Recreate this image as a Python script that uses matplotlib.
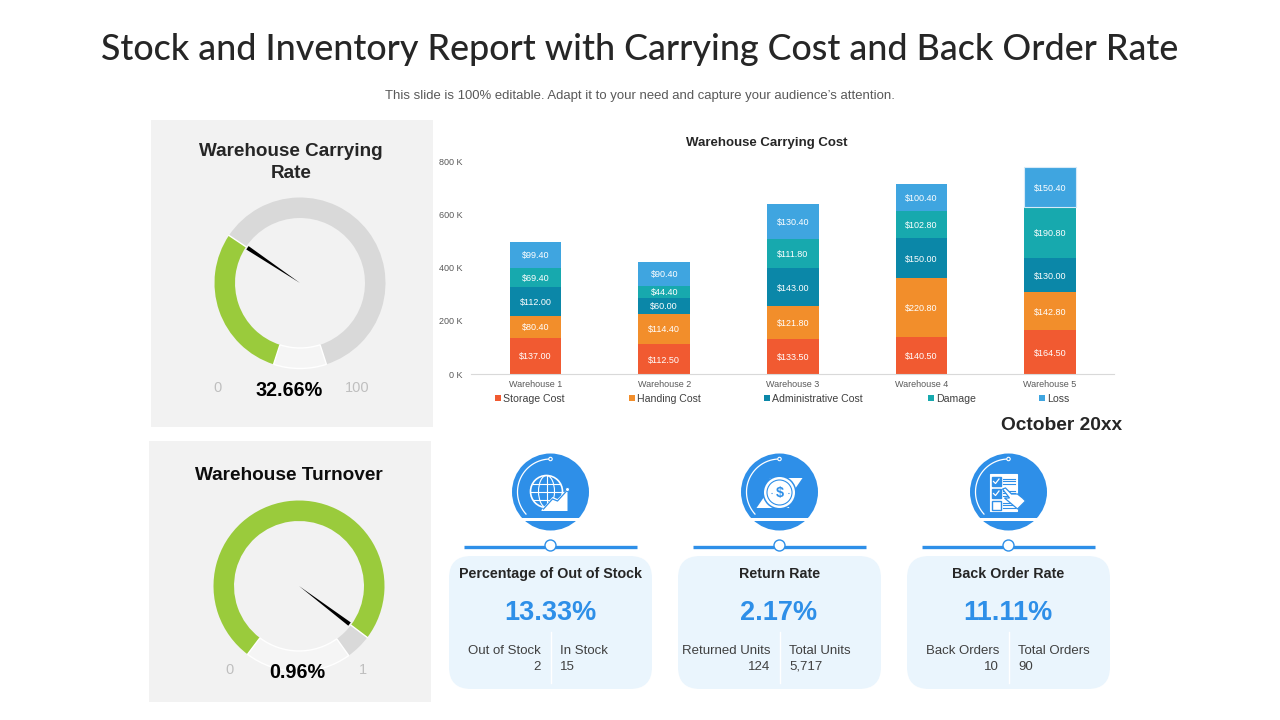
"""Stock and inventory report slide, drawn on a 1280x720 pixel grid."""
import os

os.environ.setdefault("MPLBACKEND", "Agg")

import numpy as np
import matplotlib.pyplot as plt
import matplotlib.patches as mpatches

W, H = 1280, 720

# ── Data ──────────────────────────────────────────────────────────────
warehouses = ["Warehouse 1", "Warehouse 2", "Warehouse 3", "Warehouse 4", "Warehouse 5"]
storage_cost = [137.00, 112.50, 133.50, 140.50, 164.50]
handling_cost = [80.40, 114.40, 121.80, 220.80, 142.80]
admin_cost = [112.00, 60.00, 143.00, 150.00, 130.00]
damage = [69.40, 44.40, 111.80, 102.80, 190.80]
loss = [99.40, 90.40, 130.40, 100.40, 150.40]
series_names = ["Storage Cost", "Handing Cost", "Administrative Cost", "Damage", "Loss"]
y_ticks = [0, 200, 400, 600, 800]

# gauge slices: value, rest of the scale, empty gap at the bottom
carrying_slices = [32.66, 67.34, 11.11]
turnover_slices = [0.96, 0.062, 0.258]

card_titles = ["Percentage of Out of Stock", "Return Rate", "Back Order Rate"]
card_values = ["13.33%", "2.17%", "11.11%"]
left_labels = ["Out of Stock", "Returned Units", "Back Orders"]
left_values = ["2", "124", "10"]
right_labels = ["In Stock", "Total Units", "Total Orders"]
right_values = ["15", "5,717", "90"]

# ── Palette ───────────────────────────────────────────────────────────
C = {
    "storage": "#F15A31",
    "handling": "#F28E2B",
    "admin": "#0B87A8",
    "damage": "#17A9AE",
    "loss": "#3FA5E0",
    "panel": "#F2F2F2",
    "card": "#EAF5FD",
    "blue": "#2E8FE8",
    "green": "#9ACB3C",
    "gray": "#D9D9D9",
    "gap": "#F5F5F5",
    "text": "#262626",
}
SERIES_COLORS = [C["storage"], C["handling"], C["admin"], C["damage"], C["loss"]]

plt.rcParams["font.family"] = ["Liberation Sans", "DejaVu Sans"]


def px_axes(fig, x0, y0, x1, y1, zorder=2):
    """Axes placed by pixel box, y counted from the top."""
    ax = fig.add_axes([x0 / W, 1 - y1 / H, (x1 - x0) / W, (y1 - y0) / H], zorder=zorder)
    ax.patch.set_alpha(0)
    return ax


def gauge(fig, cx, cy, slices, start_deg):
    """Doughnut gauge with a needle at the end of the first slice."""
    r = 85.5
    ax = px_axes(fig, cx - r, cy - r, cx + r, cy + r, zorder=3)
    wedges, _ = ax.pie(slices, colors=[C["green"], C["gray"], C["gap"]], startangle=270 - start_deg,
                       counterclock=False, radius=1,
                       wedgeprops=dict(width=0.24, edgecolor="none"))
    # only the empty slice keeps a white outline
    wedges[2].set_edgecolor("white")
    wedges[2].set_linewidth(1.0)
    wedges[2].set_zorder(4)
    ax.set_xlim(-1, 1)
    ax.set_ylim(-1, 1)
    ang = np.deg2rad(270 - start_deg - 360 * slices[0] / sum(slices))
    d = np.array([np.cos(ang), np.sin(ang)])
    n = np.array([-d[1], d[0]])
    ax.plot([0.76 * d[0], d[0]], [0.76 * d[1], d[1]], color="white", lw=1.0, zorder=5)
    base = d * 0.74
    ax.add_patch(mpatches.Polygon([(0, 0), base + n * 0.024, base - n * 0.024],
                                  closed=True, facecolor="black", edgecolor="none", zorder=6))


def header_icon(ov, cx):
    """Blue disc, white band, arc and the connector line under it."""
    cy = 492
    ov.add_patch(mpatches.Circle((cx, cy), 38.5, facecolor=C["blue"], edgecolor="none", zorder=2))
    ov.add_patch(mpatches.Rectangle((cx - 40, 518), 80, 3.2, facecolor="white", edgecolor="none", zorder=3))
    t = np.deg2rad(np.linspace(90, 222, 50))
    ov.plot(cx + 33 * np.cos(t), cy - 33 * np.sin(t), color="white", lw=0.9, zorder=3)
    ov.add_patch(mpatches.Circle((cx, cy - 33), 1.7, facecolor=C["blue"], edgecolor="white", lw=0.8, zorder=4))
    ov.plot([cx - 86.5, cx + 86.5], [547, 547], color=C["blue"], lw=2.4, solid_capstyle="butt", zorder=2)
    ov.add_patch(mpatches.Circle((cx, 545.5), 5.5, facecolor="white", edgecolor=C["blue"], lw=1.0, zorder=3))


def globe_icon(ov, cx):
    gx, gy = cx - 4, 491.5
    ov.add_patch(mpatches.Circle((gx, gy), 16, facecolor=C["blue"], edgecolor="white", lw=1.2, zorder=5))
    ov.add_patch(mpatches.Ellipse((gx, gy), 16, 32, facecolor="none", edgecolor="white", lw=0.8, zorder=6))
    ov.plot([gx, gx], [gy - 16, gy + 16], color="white", lw=0.8, zorder=6)
    for dy, half in ((-8, 13.8), (0, 16), (8, 13.8)):
        ov.plot([gx - half, gx + half], [gy + dy, gy + dy], color="white", lw=0.8, zorder=6)
    ov.add_patch(mpatches.Polygon([(cx - 9, 511), (cx + 17, 511), (cx + 17, 489), (cx + 7, 499), (cx + 2, 497), (cx - 9, 510)],
                                  facecolor="white", edgecolor="none", zorder=7))
    ov.plot([cx - 7, cx + 2, cx + 7, cx + 17], [509, 499, 501, 490], color=C["blue"], lw=0.9, zorder=8)
    ov.add_patch(mpatches.Circle((cx + 17, 489.5), 2, facecolor="white", edgecolor=C["blue"], lw=0.7, zorder=9))


def coin_icon(ov, cx):
    cy = 492.5
    ov.add_patch(mpatches.Polygon([(cx - 10, 478), (cx + 23, 478), (cx + 10, 497)], facecolor="white", edgecolor="none", zorder=4))
    ov.add_patch(mpatches.Polygon([(cx - 23, 508), (cx + 10, 508), (cx - 10, 489)], facecolor="white", edgecolor="none", zorder=4))
    ov.add_patch(mpatches.Circle((cx, cy), 17, facecolor=C["blue"], edgecolor="none", zorder=5))
    ov.add_patch(mpatches.Circle((cx, cy), 15.5, facecolor="white", edgecolor="none", zorder=6))
    ov.add_patch(mpatches.Circle((cx, cy), 12.5, facecolor="white", edgecolor=C["blue"], lw=0.8, zorder=7))
    ov.text(cx, cy, "$", ha="center", va="center", fontsize=10.5, fontweight="bold", color=C["blue"], zorder=8)
    for sign in (-1, 1):
        ov.plot([cx + sign * 9, cx + sign * 6], [cy, cy], color=C["blue"], lw=0.8, ls=":", zorder=8)


def checklist_icon(ov, cx):
    x0, x1, y0, y1 = cx - 19, cx + 8, 474, 511
    ov.add_patch(mpatches.Rectangle((x0, y0), x1 - x0, y1 - y0, facecolor="white", edgecolor="white", lw=0.8, zorder=4))
    for i, ry in enumerate((477, 489, 501)):
        ov.add_patch(mpatches.Rectangle((x0 + 2, ry), 9, 8.5, facecolor="white" if i == 2 else C["blue"],
                                        edgecolor=C["blue"], lw=1.0, zorder=5))
        if i < 2:
            ov.plot([x0 + 4, x0 + 6, x0 + 9.5], [ry + 4.5, ry + 6.5, ry + 2], color="white", lw=0.9, zorder=6)
        for k in (1.5, 4, 6.5):
            ov.plot([x0 + 13, x1 - 1.5], [ry + k, ry + k], color=C["blue"], lw=0.8, zorder=5)
    ov.add_patch(mpatches.Polygon(
        [(cx - 6, 489), (cx - 3, 488), (cx + 3, 494), (cx + 9, 494), (cx + 14, 498), (cx + 17, 501),
         (cx + 9, 509), (cx + 2, 503), (cx - 4, 498), (cx + 1, 498)],
        facecolor="white", edgecolor=C["blue"], lw=0.9, zorder=7))


def main():
    fig = plt.figure(figsize=(W / 100, H / 100), dpi=100, facecolor="white")

    # full slide overlay in pixel coordinates
    ov = px_axes(fig, 0, 0, W, H, zorder=1)
    ov.set_xlim(0, W)
    ov.set_ylim(H, 0)
    ov.axis("off")

    ov.text(640, 50, "Stock and Inventory Report with Carrying Cost and Back Order Rate",
            ha="center", va="center", fontsize=25.8, family="Lato", fontweight="medium", color=C["text"])
    ov.text(640, 95.5, "This slide is 100% editable. Adapt it to your need and capture your audience\u2019s attention.",
            ha="center", va="center", fontsize=9.45, color="#595959")

    # ── Gauge panels ──────────────────────────────────────────────────
    ov.add_patch(mpatches.Rectangle((151, 120), 282, 307, facecolor=C["panel"], edgecolor="none"))
    ov.add_patch(mpatches.Rectangle((149, 441), 282, 261, facecolor=C["panel"], edgecolor="none"))

    ov.text(291, 151, "Warehouse Carrying", ha="center", va="center", fontsize=13.6, fontweight="bold", color=C["text"])
    ov.text(291, 174, "Rate", ha="center", va="center", fontsize=13.6, fontweight="bold", color=C["text"])
    ov.text(289, 476, "Warehouse Turnover", ha="center", va="center", fontsize=13.7, fontweight="bold", color="#0D0D0D")

    gauge(fig, 300, 283, carrying_slices, 18)
    gauge(fig, 299, 586, turnover_slices, 37)

    top = px_axes(fig, 0, 0, W, H, zorder=4)
    top.set_xlim(0, W)
    top.set_ylim(H, 0)
    top.axis("off")
    top.text(289, 390, "32.66%", ha="center", va="center", fontsize=14.2, fontweight="bold", color="black")
    top.text(218, 388, "0", ha="center", va="center", fontsize=10.5, color="#BFBFBF")
    top.text(357, 388, "100", ha="center", va="center", fontsize=10.5, color="#BFBFBF")
    top.text(297.5, 672, "0.96%", ha="center", va="center", fontsize=14.2, fontweight="bold", color="black")
    top.text(230, 670, "0", ha="center", va="center", fontsize=10.5, color="#BFBFBF")
    top.text(363, 670, "1", ha="center", va="center", fontsize=10.5, color="#BFBFBF")

    # ── Stacked bars ──────────────────────────────────────────────────
    ax = px_axes(fig, 471.3, 161.5, 1114.3, 374, zorder=2)
    x = np.arange(len(warehouses))
    bottom = np.zeros(len(warehouses))
    for vals, col in zip([storage_cost, handling_cost, admin_cost, damage, loss], SERIES_COLORS):
        bars = ax.bar(x, vals, 0.40, bottom=bottom, color=col, edgecolor="none", zorder=2)
        texts = ax.bar_label(bars, labels=[f"${v:.2f}" for v in vals], label_type="center",
                             color="white", fontsize=6.5)
        for t in texts:
            t.set_va("center_baseline")
        bottom += np.array(vals)
    bars[-1].set_edgecolor("#D6EAF8")
    bars[-1].set_linewidth(0.8)
    ax.set_xlim(-0.5, 4.5)
    ax.set_ylim(0, 800)
    ax.set_xticks(x, warehouses)
    ax.set_yticks(y_ticks, [f"{t} K" for t in y_ticks])
    ax.tick_params(axis="both", length=0, labelsize=6.5, labelcolor="#595959")
    ax.tick_params(axis="x", pad=4)
    ax.tick_params(axis="y", pad=6.5)
    for side in ("top", "right", "left"):
        ax.spines[side].set_visible(False)
    ax.spines["bottom"].set_color("#D9D9D9")

    ov.text(767, 143, "Warehouse Carrying Cost", ha="center", va="center", fontsize=9.5, fontweight="bold", color=C["text"])

    for lx, name, col in zip([498, 632, 767, 931, 1042], series_names, SERIES_COLORS):
        ov.add_patch(mpatches.Rectangle((lx - 3, 395), 5.5, 6, facecolor=col, edgecolor="none"))
        ov.text(lx + 5, 399, name, ha="left", va="center", fontsize=7.6, color="#404040")

    ov.text(1122, 426, "October 20xx", ha="right", va="center", fontsize=13.8, fontweight="bold", color=C["text"])

    # ── KPI cards ─────────────────────────────────────────────────────
    for i, cx in enumerate([550.5, 779.5, 1008.5]):
        ov.add_patch(mpatches.FancyBboxPatch(
            (cx - 101.5 + 22, 556 + 22), 203 - 44, 133 - 44,
            boxstyle="round,pad=22,rounding_size=22",
            facecolor=C["card"], edgecolor="none", zorder=1))
        header_icon(ov, cx)
        ov.text(cx, 574, card_titles[i], ha="center", va="center", fontsize=10.3, fontweight="bold", color=C["text"])
        ov.text(cx - 0.5, 613, card_values[i], ha="center", va="center", fontsize=19.5, fontweight="bold", color=C["blue"])
        ov.plot([cx, cx], [632, 683], color="white", lw=1.0, zorder=2)
        ov.text(cx - 9.5, 650.5, left_labels[i], ha="right", va="center", fontsize=9.5, color="#404040")
        ov.text(cx - 9.5, 666.5, left_values[i], ha="right", va="center", fontsize=9.5, color="#404040")
        ov.text(cx + 9.5, 650.5, right_labels[i], ha="left", va="center", fontsize=9.5, color="#404040")
        ov.text(cx + 9.5, 666.5, right_values[i], ha="left", va="center", fontsize=9.5, color="#404040")

    globe_icon(ov, 550.5)
    coin_icon(ov, 779.5)
    checklist_icon(ov, 1008.5)

    fig.savefig("out.png", dpi=100, facecolor="white")
    plt.close(fig)


if __name__ == "__main__":
    main()
